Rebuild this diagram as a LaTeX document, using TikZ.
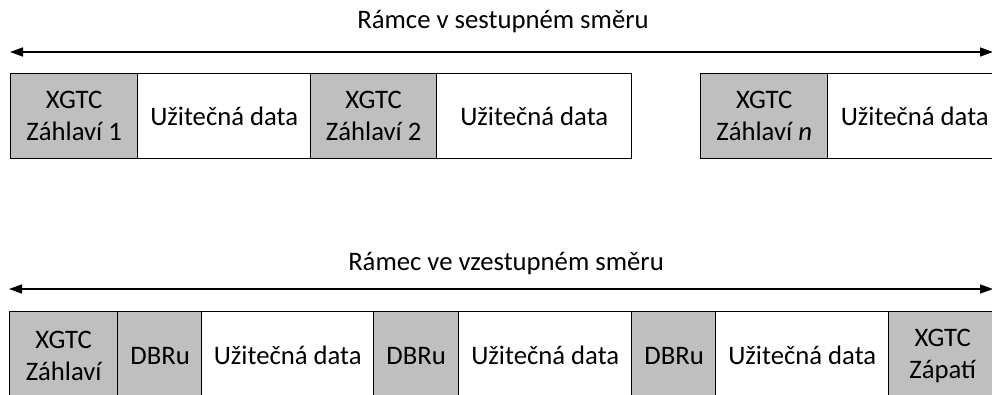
\documentclass[tikz,border=0pt]{standalone}
\usepackage{fontspec}
\setmainfont{Carlito}
\usetikzlibrary{arrows.meta}
\definecolor{hdrgray}{RGB}{191,191,191}
\tikzset{
  cell/.style={draw=black, line width=1.4pt, rectangle, inner sep=0pt, anchor=north west,
    align=center, font=\fontsize{26.7}{32}\selectfont, text=black},
  hdr/.style={cell, fill=hdrgray},
  dat/.style={cell, fill=white},
  title/.style={font=\fontsize{26.7}{32}\selectfont, inner sep=0pt},
  span/.style={line width=1.4pt, {Triangle[length=13pt,width=9pt]}-{Triangle[length=13pt,width=9pt]}}
}
\begin{document}
\begin{tikzpicture}[x=1pt,y=-1pt]
\useasboundingbox (0,0) rectangle (992,394);
\clip (0,0) rectangle (992,394);
% top
\node[title] (t1) at (503,22) {Rámce v sestupném směru};
\coordinate (a1l) at (10,52);
\coordinate (a1r) at (993,52);
\draw[span] (a1l) -- (a1r);
\node[hdr, minimum width=127pt, minimum height=85pt] (h1) at (10,73) {XGTC\\Záhlaví 1};
\node[dat, minimum width=173pt, minimum height=85pt] (d1) at (137,73) {Užitečná data};
\node[hdr, minimum width=126pt, minimum height=85pt] (h2) at (310,73) {XGTC\\Záhlaví 2};
\node[dat, minimum width=195pt, minimum height=85pt] (d2) at (436,73) {Užitečná data};
\node[hdr, minimum width=127pt, minimum height=85pt] (hn) at (700,73) {XGTC\\Záhlaví \textit{n}};
\node[dat, minimum width=174pt, minimum height=85pt] (dn) at (827,73) {Užitečná data};
% bottom
\node[title] (t2) at (506,264) {Rámec ve vzestupném směru};
\coordinate (a2l) at (9,289);
\coordinate (a2r) at (993,289);
\draw[span] (a2l) -- (a2r);
\node[hdr, minimum width=108pt, minimum height=88pt] (bh) at (9,311) {XGTC\\Záhlaví};
\node[hdr, minimum width=85pt, minimum height=88pt] (b1) at (117,311) {DBRu};
\node[dat, minimum width=172pt, minimum height=88pt] (bd1) at (201,311) {Užitečná data};
\node[hdr, minimum width=85pt, minimum height=88pt] (b2) at (373,311) {DBRu};
\node[dat, minimum width=173pt, minimum height=88pt] (bd2) at (458,311) {Užitečná data};
\node[hdr, minimum width=85pt, minimum height=88pt] (b3) at (631,311) {DBRu};
\node[dat, minimum width=173pt, minimum height=88pt] (bd3) at (715,311) {Užitečná data};
\node[hdr, minimum width=108pt, minimum height=88pt] (bf) at (888,311) {XGTC\\Zápatí};
\end{tikzpicture}
\end{document}
